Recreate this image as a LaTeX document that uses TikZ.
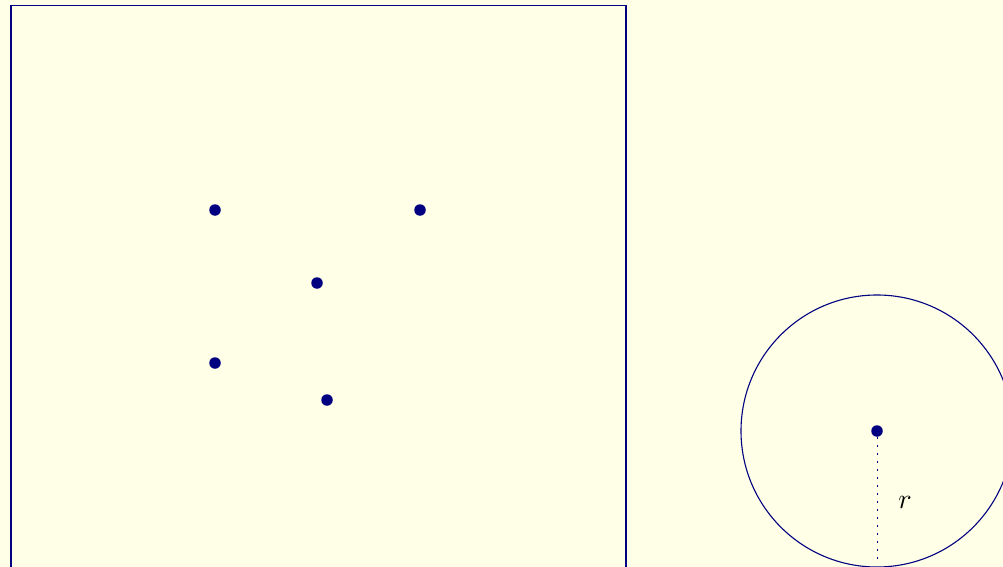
\documentclass[tikz,border=0pt]{standalone}
\usepackage{tikz}
\definecolor{bg}{RGB}{255,255,232}
\definecolor{ink}{RGB}{0,0,128}
\begin{document}
\begin{tikzpicture}[x=1pt,y=-1pt,
  dot/.style={circle,fill=ink,inner sep=0pt,minimum size=11.5pt},
  line/.style={draw=ink,line width=1.1pt}]
\useasboundingbox (0,0) rectangle (1003,567);
\fill[bg] (0,0) rectangle (1003,567);
\begin{scope}
\clip (0,0) rectangle (1003,567);
\draw[line] (11,5.5) rectangle (626,620);
\node[dot] (p1) at (215,210) {};
\node[dot] (p2) at (420,210) {};
\node[dot] (p3) at (317,283) {};
\node[dot] (p4) at (215,363) {};
\node[dot] (p5) at (327,400) {};
\node[dot] (c) at (877,431) {};
\draw[line] (c.center) circle[radius=136];
\coordinate (b) at (877,563);
\draw[ink,line width=1pt,dash pattern=on 2pt off 6pt] (c) -- (b);
\node[scale=2.8] (r) at (905,502) {$r$};
\end{scope}
\end{tikzpicture}
\end{document}
